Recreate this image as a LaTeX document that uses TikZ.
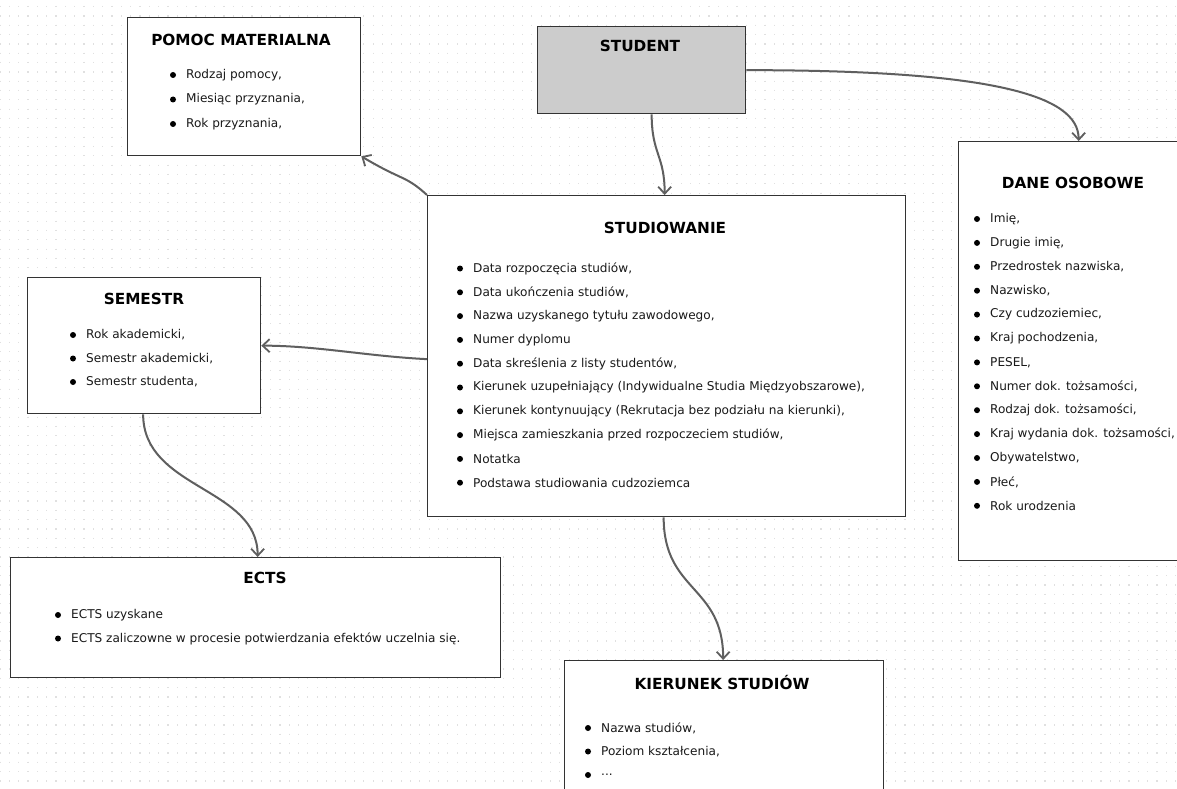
\documentclass[tikz,border=0pt]{standalone}
\usepackage{fontspec}
\setmainfont{DejaVu Sans}
\usetikzlibrary{arrows.meta,calc}
\definecolor{edgec}{HTML}{333333}
\definecolor{connc}{HTML}{5F5F5F}
\definecolor{dotc}{HTML}{E0E0E0}
\definecolor{stufill}{HTML}{CCCCCC}
\newcommand{\threedots}{\mbox{.\kern0pt.\kern0pt.}}
\tikzset{
  box/.style={draw=edgec, line width=1.3pt, fill=white, anchor=north west, inner sep=0pt},
  ttl/.style={font=\fontsize{15.3}{17}\selectfont\bfseries, text=black, inner sep=0pt},
  itm/.style={font=\fontsize{12.1}{14}\selectfont, text=black!90, anchor=west, inner sep=0pt},
  link/.style={draw=connc, line width=2pt, -{Straight Barb[length=7pt,width=13pt,line width=1.8pt]}},
  gridline/.style={draw=dotc, line width=1.2pt, dash pattern=on 1.2pt off 8.13pt},
}
\newcommand{\blist}[5]{%
  \foreach \t [count=\i from 0] in {#5}{
    \fill[black] (#2,#3+\i*#4) circle (3pt);
    \node[itm] (#1\i) at (#2+13,#3+\i*#4) {\t};
  }}
\begin{document}
\begin{tikzpicture}[x=1pt,y=-1pt]
\useasboundingbox (0,0) rectangle (1177,789);
\fill[white] (0,0) rectangle (1177,789);
\begin{scope}
\clip (0,0) rectangle (1177,789);
\foreach \gx in {0,...,126}{
  \path[gridline] (\gx*9.33,6) -- (\gx*9.33,789);
}
% boxes
\node[box, minimum width=233pt, minimum height=138pt] (pomoc) at (127,17) {};
\node[box, fill=stufill, minimum width=208pt, minimum height=87pt] (student) at (537,26) {};
\node[box, minimum width=478pt, minimum height=321pt] (stud) at (427,195) {};
\node[box, minimum width=240pt, minimum height=419pt] (dane) at (958,141) {};
\node[box, minimum width=233pt, minimum height=136pt] (sem) at (27,277) {};
\node[box, minimum width=490pt, minimum height=120pt] (ects) at (10,557) {};
\node[box, minimum width=319pt, minimum height=150pt] (kier) at (564,660) {};
\end{scope}
\coordinate (studL) at ([yshift=-3pt]stud.west);
% titles
\node[ttl] (tpomoc) at (241,40) {POMOC MATERIALNA};
\node[ttl] (tstudent) at (640,46) {STUDENT};
\node[ttl] (tstud) at (665,228) {STUDIOWANIE};
\node[ttl] (tdane) at (1073,183) {DANE OSOBOWE};
\node[ttl] (tsem) at (144,299) {SEMESTR};
\node[ttl] (tects) at (265,578) {ECTS};
\node[ttl] (tkier) at (722,683) {KIERUNEK STUDIÓW};
% items
\blist{p}{173}{75}{24.5}{{Rodzaj pomocy,},{Miesiąc przyznania,},{Rok przyznania,}}
\blist{s}{460}{268.5}{23.8}{{Data rozpoczęcia studiów,},{Data ukończenia studiów,},{Nazwa uzyskanego tytułu zawodowego,},{Numer dyplomu},{Data skreślenia z listy studentów,},{Kierunek uzupełniający (Indywidualne Studia Międzyobszarowe),},{Kierunek kontynuujący (Rekrutacja bez podziału na kierunki),},{Miejsca zamieszkania przed rozpoczeciem studiów,},{Notatka},{Podstawa studiowania cudzoziemca}}
\blist{d}{977}{219}{23.9}{{Imię,},{Drugie imię,},{Przedrostek nazwiska,},{Nazwisko,},{Czy cudzoziemiec,},{Kraj pochodzenia,},{PESEL,},{Numer dok. tożsamości,},{Rodzaj dok. tożsamości,},{Kraj wydania dok. tożsamości,},{Obywatelstwo,},{Płeć,},{Rok urodzenia}}
\blist{m}{73}{335}{23.5}{{Rok akademicki,},{Semestr akademicki,},{Semestr studenta,}}
\blist{e}{58}{615}{23.5}{{ECTS uzyskane},{ECTS zaliczowne w procesie potwierdzania efektów uczelnia się.}}
\blist{k}{588}{728}{23.5}{{Nazwa studiów,},{Poziom kształcenia,},{\threedots}}
% connectors
\draw[link] ([xshift=10pt]student.south) .. controls +(0,40) and +(0,-40) .. ([xshift=-2pt]stud.north);
\draw[link] (student.east) .. controls +(245,0) and +(0,-46) .. (dane.north);
\draw[link] (stud.north west) .. controls +(-22,-20) and +(42,25) .. (pomoc.south east);
\draw[link] (studL) .. controls +(-60,-3) and +(55,0) .. (sem.east);
\draw[link] ([xshift=-1pt]sem.south) .. controls +(0,75) and +(0,-70) .. ([xshift=2pt]ects.north);
\draw[link] ([xshift=-3pt]stud.south) .. controls +(0,75) and +(0,-75) .. ([xshift=-1pt]kier.north);
\end{tikzpicture}
\end{document}
